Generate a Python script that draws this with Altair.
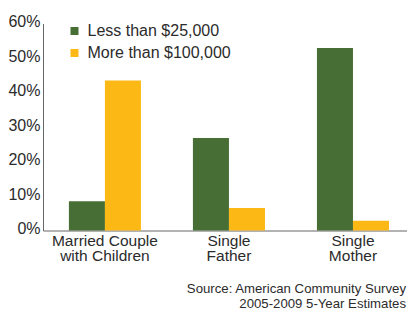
import altair as alt
import pandas as pd

categories = ["Married Couple with Children", "Single Father", "Single Mother"]
series_names = ["Less than $25,000", "More than $100,000"]
less_than_25k = [0.085, 0.268, 0.529]
more_than_100k = [0.435, 0.065, 0.028]
y_ticks = [0, 0.1, 0.2, 0.3, 0.4, 0.5, 0.6]
source_lines = "Source: American Community Survey\n2005-2009 5-Year Estimates"

GREEN = "#476F35"
ORANGE = "#FCB814"
TEXT = "#2b2b2b"
AXIS = "#666666"
FONT = "Liberation Sans"

rows = []
for c, a, b in zip(categories, less_than_25k, more_than_100k):
    rows.append({"cat": c, "series": series_names[0], "value": a})
    rows.append({"cat": c, "series": series_names[1], "value": b})
df = pd.DataFrame(rows)

label_expr = (
    "datum.label == 'Married Couple with Children' ? "
    "['Married Couple', 'with Children'] : split(datum.label, ' ')"
)

bars = alt.Chart(df).mark_bar().encode(
    x=alt.X(
        "cat:N",
        sort=categories,
        scale=alt.Scale(paddingInner=0.419, paddingOuter=0.177, align=0.59),
        axis=alt.Axis(
            title=None, labelAngle=0, ticks=False, labelExpr=label_expr,
            labelFontSize=15.5, labelLineHeight=15.5, labelPadding=2.5,
            labelColor=TEXT, labelFont=FONT, domainColor=AXIS, domainWidth=1,
        ),
    ),
    xOffset=alt.XOffset("series:N", sort=series_names),
    y=alt.Y(
        "value:Q",
        scale=alt.Scale(domain=[0, 0.6]),
        axis=alt.Axis(
            title=None, format=".0%", values=y_ticks, grid=False, ticks=False,
            labelFontSize=16, labelPadding=3, labelOffset=-2,
            labelColor=TEXT, labelFont=FONT,
            domainColor=AXIS, domainWidth=1,
        ),
    ),
    color=alt.Color(
        "series:N",
        sort=series_names,
        scale=alt.Scale(domain=series_names, range=[GREEN, ORANGE]),
        legend=alt.Legend(
            orient="none", legendX=23.5, legendY=-0.5, title=None,
            symbolType="square", symbolSize=64, symbolStrokeWidth=0,
            labelFontSize=16, labelFont=FONT, labelColor=TEXT,
            rowPadding=6, padding=0, labelOffset=5,
        ),
    ),
)

src = alt.Chart(pd.DataFrame({"t": [source_lines]})).mark_text(
    align="right", baseline="alphabetic", fontSize=13.2, lineHeight=14.5,
    lineBreak="\n", color=TEXT, font=FONT,
).encode(x=alt.value(363), y=alt.value(269.8), text="t:N")

chart = alt.layer(bars, src).properties(
    width=364,
    height=207,
    autosize=alt.AutoSizeParams(type="none"),
    padding={"left": 35, "top": 15.5, "right": 0, "bottom": 79},
).configure_view(stroke=None)

chart.save("out.html", embed_options={"renderer": "svg", "actions": False})
